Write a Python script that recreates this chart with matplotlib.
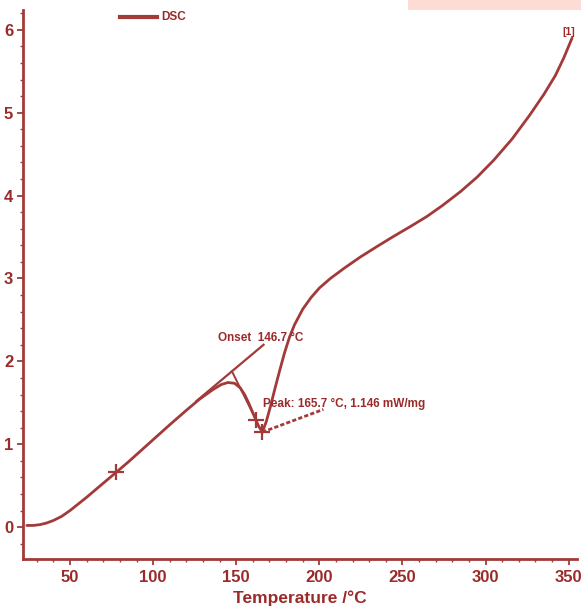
import matplotlib
matplotlib.use("Agg")
import matplotlib.pyplot as plt
from matplotlib.patches import Rectangle
from matplotlib.ticker import MultipleLocator

# ---- data ----
temp = [24, 28, 32, 36, 40, 45, 50, 55, 60, 65, 70, 77.7, 85, 90, 100, 110, 120,
        128, 136, 141, 145, 149, 152.4, 155, 157.4, 160.4, 163.4, 165.7,
        168, 170.5, 173, 176, 179, 182, 185, 190, 195, 200, 206.6, 215, 224.7,
        235, 244.8, 255, 264.8, 274, 285, 295, 305, 316, 326.5, 335, 342, 347, 352]
dsc = [0.02, 0.02, 0.03, 0.05, 0.08, 0.13, 0.20, 0.28, 0.36, 0.445, 0.53, 0.66, 0.785,
       0.875, 1.055, 1.235, 1.41, 1.545, 1.66, 1.72, 1.745, 1.735, 1.68, 1.60, 1.50,
       1.36, 1.22, 1.146, 1.27, 1.45, 1.65, 1.88, 2.10, 2.29, 2.44, 2.63, 2.77,
       2.885, 3.00, 3.125, 3.26, 3.39, 3.51, 3.63, 3.75, 3.88, 4.05, 4.225, 4.43,
       4.685, 4.97, 5.22, 5.45, 5.66, 5.90]

onset_tangent_t = [126, 166.4]
onset_tangent_v = [1.52, 2.20]
edge_tangent_t = [147.4, 162.0]
edge_tangent_v = [1.88, 1.29]
peak_base_t = [165.7, 202.4]
peak_base_v = [1.146, 1.42]
marker_t = [77.7, 162.0, 165.7]
marker_v = [0.66, 1.29, 1.146]

x_ticks = [50, 100, 150, 200, 250, 300, 350]
y_ticks = [0, 1, 2, 3, 4, 5, 6]

onset_label = "Onset  146.7 °C"
peak_label = "Peak: 165.7 °C, 1.146 mW/mg"
x_label = "Temperature /°C"
legend_label = "DSC"

# ---- style ----
line_c = "#a23a3a"
text_c = "#9a2b2b"
fam = ["Liberation Sans Narrow", "Liberation Sans", "DejaVu Sans"]
plt.rcParams["font.family"] = fam

fig = plt.figure(figsize=(5.81, 6.09), dpi=100)
ax = fig.add_axes([23 / 581, 50 / 609, 554 / 581, 549 / 609])

ax.plot(temp, dsc, color=line_c, lw=2.0, solid_capstyle="round",
        solid_joinstyle="round")
ax.plot(onset_tangent_t, onset_tangent_v, color=line_c, lw=1.6)
ax.plot(edge_tangent_t, edge_tangent_v, color=line_c, lw=1.4)
ax.plot(peak_base_t, peak_base_v, color=line_c, lw=2.0, ls=(0, (1.5, 0.8)))
ax.plot(marker_t, marker_v, ls="none", marker="+", ms=11, mew=1.6, color=line_c)

ax.text(139.2, 2.28, onset_label, color=text_c, fontsize=8.5, fontweight="bold",
        va="center", ha="left")
ax.text(166.3, 1.49, peak_label, color=text_c, fontsize=8.5, fontweight="bold",
        va="center", ha="left")
ax.text(350, 5.98, "[1]", color=text_c, fontsize=7.5, fontweight="bold",
        va="center", ha="center")

ax.set_xlim(21.7, 355)
ax.set_ylim(-0.385, 6.24)
ax.set_xticks(x_ticks)
ax.set_yticks(y_ticks)
ax.xaxis.set_minor_locator(MultipleLocator(10))
ax.yaxis.set_minor_locator(MultipleLocator(0.2))

for s in ["top", "right"]:
    ax.spines[s].set_visible(False)
for s in ["left", "bottom"]:
    ax.spines[s].set_color(line_c)
    ax.spines[s].set_linewidth(2.0)

ax.tick_params(axis="both", which="major", direction="out", length=4, width=1.3,
               colors=line_c, labelcolor=text_c, labelsize=12)
ax.tick_params(axis="both", which="minor", direction="out", length=2.5, width=1.0,
               colors=line_c)
ax.tick_params(axis="y", pad=3)
ax.tick_params(axis="x", pad=4)
for lab in ax.get_xticklabels() + ax.get_yticklabels():
    lab.set_fontweight("bold")

ax.set_xlabel(x_label, color=text_c, fontsize=12.5, fontweight="bold", labelpad=4)

# legend-like header
fig.add_artist(plt.Line2D([120 / 581, 157 / 581], [1 - 17 / 609, 1 - 17 / 609],
                          color=line_c, lw=3, transform=fig.transFigure))
fig.text(161 / 581, 1 - 17 / 609, legend_label, color=text_c, fontsize=8.5,
         fontweight="bold", va="center", ha="left")

# pink band at the top right (screenshot artefact)
fig.add_artist(Rectangle((408 / 581, 1 - 10 / 609), 173 / 581, 10 / 609,
                         transform=fig.transFigure, facecolor="#fddcd5",
                         edgecolor="none"))

fig.savefig("out.png", dpi=100)
